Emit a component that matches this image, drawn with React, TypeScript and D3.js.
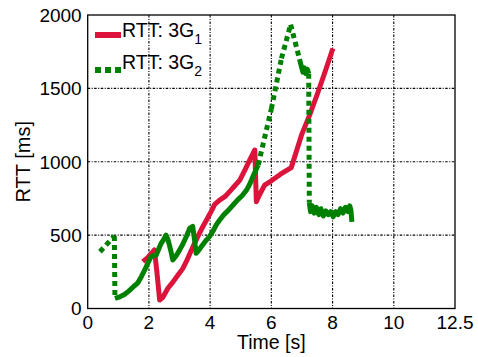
import { useEffect, useRef } from 'react';
import * as d3 from 'd3';

// axis ticks
const xTicks = [0, 2, 4, 6, 8, 10, 12];
const xTickLabels = ['0', '2', '4', '6', '8', '10', '12.5'];
const yTicks = [0, 500, 1000, 1500, 2000];

// RTT: 3G1 (red, solid)
const rtt1Time = [1.80, 1.95, 2.10, 2.18, 2.26, 2.35, 2.45, 2.62, 2.80, 2.95, 3.10, 3.22, 3.35, 3.49, 3.62, 3.76, 3.90, 4.03, 4.15, 4.31, 4.48, 4.65, 4.80, 4.97, 5.15, 5.30, 5.46, 5.51, 5.60, 5.78, 6.00, 6.30, 6.65, 7.00, 7.25, 7.50, 7.75, 8.01];
const rtt1Value = [319, 345, 380, 400, 250, 58, 75, 138, 185, 228, 270, 319, 380, 444, 500, 557, 610, 660, 710, 739, 762, 800, 835, 875, 950, 1015, 1080, 727, 770, 841, 870, 915, 960, 1190, 1318, 1460, 1610, 1772];

// RTT: 3G2 (green, dotted)
const rtt2Time = [0.40, 0.87, 0.89, 1.05, 1.20, 1.35, 1.50, 1.64, 1.76, 1.86, 1.97, 2.07, 2.15, 2.24, 2.32, 2.40, 2.48, 2.56, 2.62, 2.67, 2.73, 2.78, 2.89, 3.00, 3.11, 3.22, 3.33, 3.43, 3.49, 3.54, 3.62, 3.71, 3.85, 3.98, 4.10, 4.20, 4.31, 4.45, 4.60, 4.75, 4.90, 5.05, 5.19, 5.30, 5.40, 5.50, 5.57, 6.00, 6.33, 6.63, 6.92, 6.98, 7.03, 7.08, 7.13, 7.18, 7.22, 7.24, 7.28, 7.33, 7.40, 7.47, 7.55, 7.62, 7.70, 7.78, 7.86, 7.94, 8.02, 8.10, 8.18, 8.26, 8.34, 8.42, 8.50, 8.56, 8.60, 8.63];
const rtt2Value = [387, 494, 69, 80, 95, 120, 150, 175, 220, 262, 310, 353, 360, 364, 405, 444, 470, 500, 470, 432, 380, 330, 360, 398, 440, 489, 546, 560, 470, 376, 395, 421, 460, 490, 530, 570, 603, 640, 670, 705, 740, 770, 807, 850, 900, 945, 978, 1360, 1704, 1935, 1700, 1650, 1610, 1640, 1600, 1630, 1600, 720, 660, 700, 650, 690, 640, 680, 630, 665, 640, 660, 625, 660, 640, 680, 650, 690, 660, 700, 670, 590];

const legendLabels = ['RTT: 3G', 'RTT: 3G'];
const legendSubs = ['1', '2'];

const RED = '#dc143c';
const GREEN = '#008000';
const FONT = 'Liberation Sans, Arial, sans-serif';

// dash-dot grid path, built from short sub-paths
function gridPath(x0: number, y0: number, len: number, vertical: boolean) {
  const pattern = [2.5, 1.5, 1, 1.5];
  let d = '';
  let pos = 0;
  let k = 0;
  while (pos < len) {
    const seg = Math.min(pattern[k % 4], len - pos);
    if (k % 2 === 0) {
      d += vertical ? `M${x0},${y0 + pos}v${seg}` : `M${x0 + pos},${y0}h${seg}`;
    }
    pos += pattern[k % 4];
    k++;
  }
  return d;
}

function RttChart() {
  const svgRef = useRef<SVGSVGElement>(null);

  useEffect(() => {
    const W = 478;
    const H = 357;
    const margin = { top: 15, right: 23, bottom: 48.5, left: 87.7 };
    const width = W - margin.left - margin.right;
    const height = H - margin.top - margin.bottom;

    d3.select(svgRef.current).selectAll('*').remove();

    const root = d3.select(svgRef.current)
      .attr('width', W)
      .attr('height', H)
      .style('font-family', FONT);

    root.append('rect').attr('width', W).attr('height', H).attr('fill', '#fff');

    const svg = root.append('g')
      .attr('transform', `translate(${margin.left},${margin.top})`);

    const x = d3.scaleLinear().domain([0, 12]).range([0, width]);
    const y = d3.scaleLinear().domain([0, 2000]).range([height, 0]);

    // grid
    svg.append('g')
      .selectAll('path')
      .data(xTicks.filter(t => t > 0 && t < 12))
      .join('path')
      .attr('fill', 'none')
      .attr('stroke', '#000')
      .attr('stroke-width', 1.1)
      .attr('d', d => gridPath(x(d), 0, height, true));

    svg.append('g')
      .selectAll('path')
      .data(yTicks.filter(t => t > 0 && t < 2000))
      .join('path')
      .attr('fill', 'none')
      .attr('stroke', '#000')
      .attr('stroke-width', 1.1)
      .attr('d', d => gridPath(0, y(d), width, false));

    // box
    svg.append('rect')
      .attr('width', width)
      .attr('height', height)
      .attr('fill', 'none')
      .attr('stroke', '#000')
      .attr('stroke-width', 1.3);

    // tick labels
    svg.append('g')
      .selectAll('text')
      .data(xTicks)
      .join('text')
      .attr('x', d => x(d))
      .attr('y', height + 20)
      .attr('text-anchor', 'middle')
      .style('font-size', '19px')
      .text((d, i) => xTickLabels[i]);

    svg.append('g')
      .selectAll('text')
      .data(yTicks)
      .join('text')
      .attr('x', -6)
      .attr('y', d => y(d))
      .attr('dy', '0.36em')
      .attr('text-anchor', 'end')
      .style('font-size', '19px')
      .text(d => String(d));

    // axis titles
    svg.append('text')
      .attr('x', width / 2)
      .attr('y', height + 40.5)
      .attr('text-anchor', 'middle')
      .style('font-size', '19.5px')
      .text('Time [s]');

    svg.append('text')
      .attr('transform', 'rotate(-90)')
      .attr('x', -height / 2)
      .attr('y', -57.5)
      .attr('text-anchor', 'middle')
      .style('font-size', '20px')
      .text('RTT [ms]');

    // red series
    const line = d3.line<number>()
      .x(i => x(rtt1Time[i]))
      .y(i => y(rtt1Value[i]));

    svg.append('path')
      .datum(d3.range(rtt1Time.length))
      .attr('fill', 'none')
      .attr('stroke', RED)
      .attr('stroke-width', 5)
      .attr('stroke-linejoin', 'round')
      .attr('d', line);

    // green series: dense parts look solid, long jumps show the dots
    const pts = rtt2Time.map((t, i) => [x(t), y(rtt2Value[i])] as [number, number]);
    const runs: { pts: [number, number][]; dotted: boolean }[] = [];
    for (let i = 0; i < pts.length - 1; i++) {
      const len = Math.hypot(pts[i + 1][0] - pts[i][0], pts[i + 1][1] - pts[i][1]);
      const dotted = len > 18;
      const last = runs[runs.length - 1];
      if (!dotted && last && !last.dotted) {
        last.pts.push(pts[i + 1]);
      } else {
        runs.push({ pts: [pts[i], pts[i + 1]], dotted });
      }
    }
    const gLine = d3.line<[number, number]>();
    svg.append('g')
      .selectAll('path')
      .data(runs)
      .join('path')
      .attr('fill', 'none')
      .attr('stroke', GREEN)
      .attr('stroke-width', 5)
      .attr('stroke-linejoin', 'round')
      .attr('stroke-dasharray', d => (d.dotted ? '5,4' : null))
      .attr('d', d => gLine(d.pts));

    // legend
    const legend = svg.append('g')
      .attr('transform', `translate(${95 - margin.left}, ${35 - margin.top})`);

    legend.append('line')
      .attr('x1', 0).attr('x2', 26)
      .attr('y1', 0).attr('y2', 0)
      .attr('stroke', RED)
      .attr('stroke-width', 6);

    legend.append('line')
      .attr('x1', 0).attr('x2', 26)
      .attr('y1', 35).attr('y2', 35)
      .attr('stroke', GREEN)
      .attr('stroke-width', 6)
      .attr('stroke-dasharray', '6,4');

    legendLabels.forEach((label, i) => {
      const t = legend.append('text')
        .attr('x', 27)
        .attr('y', 1.5 + i * 32)
        .style('font-size', '19.5px');
      t.append('tspan').text(label);
      t.append('tspan')
        .attr('dy', 7)
        .style('font-size', '14px')
        .text(legendSubs[i]);
    });
  }, []);

  return (
    <svg ref={svgRef} style={{ position: 'absolute', left: 0, top: 0 }}></svg>
  );
}

export default function App() {
  return <RttChart />;
}
